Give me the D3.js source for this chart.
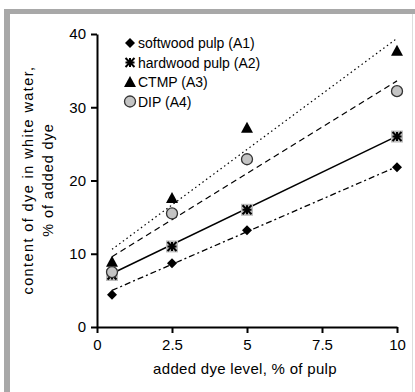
<!DOCTYPE html>
<html><head><meta charset="utf-8">
<script src="https://cdn.jsdelivr.net/npm/d3@7"></script>
<style>body{margin:0;background:#fff}svg{display:block}text{font-family:"Liberation Sans",Arial,sans-serif;fill:#000}</style>
</head><body><svg id="c" width="415" height="392"></svg>
<script>
const xLevels = [0.5, 2.5, 5, 10];
const softwood = [4.4, 8.7, 13.2, 21.8];
const hardwood = [7.1, 11.0, 16.0, 26.0];
const ctmp = [8.9, 17.6, 27.2, 37.7];
const dip = [7.5, 15.5, 22.9, 32.2];
const trendX = [0.5, 10];
const softwoodTrend = [5.0, 21.9];
const hardwoodTrend = [7.3, 26.05];
const ctmpTrend = [10.6, 39.4];
const dipTrend = [9.6, 33.6];
const xTicks = [0, 2.5, 5, 7.5, 10];
const yTicks = [0, 10, 20, 30, 40];
const seriesNames = ["softwood pulp (A1)", "hardwood pulp (A2)", "CTMP (A3)", "DIP (A4)"];

const svg = d3.select("#c");
// frame
svg.append("rect").attr("x",4).attr("y",9).attr("width",411).attr("height",5).attr("fill","#a8a8a8");
svg.append("rect").attr("x",4).attr("y",9).attr("width",6).attr("height",383).attr("fill","#a8a8a8");
svg.append("line").attr("x1",412.5).attr("x2",412.5).attr("y1",14).attr("y2",392).attr("stroke","#ddd");

const x = d3.scaleLinear().domain([0,10]).range([97,397]);
const y = d3.scaleLinear().domain([0,40]).range([327,34]);

const fmt = d => String(d);
const xa = svg.append("g").attr("transform","translate(0,327)")
  .call(d3.axisBottom(x).tickValues(xTicks).tickFormat(fmt).tickSize(6).tickSizeOuter(0));
const ya = svg.append("g").attr("transform","translate(97,0)")
  .call(d3.axisLeft(y).tickValues(yTicks).tickFormat(fmt).tickSize(6).tickSizeOuter(0));
[xa,ya].forEach(a=>{a.select(".domain").attr("stroke","#000").attr("stroke-width",2);
  a.selectAll(".tick line").attr("stroke","#000").attr("stroke-width",2);
  a.selectAll("text").attr("font-size",15).attr("font-family","Liberation Sans, Arial, sans-serif").attr("fill","#000");});
xa.selectAll("text").attr("dy","0.95em");
ya.selectAll("text").attr("x",-11);

svg.append("text").attr("x",245).attr("y",374).attr("text-anchor","middle").attr("font-size",15)
  .attr("letter-spacing","0.3").text("added dye level, % of pulp");
const yt = svg.append("text").attr("transform","translate(33,180) rotate(-90)").attr("text-anchor","middle").attr("font-size",14.5);
yt.append("tspan").attr("x",0).attr("dy",0).attr("letter-spacing","1.4").text("content of dye in white water,");
yt.append("tspan").attr("x",0).attr("dy",20).attr("letter-spacing","0.9").text("% of added dye");

// trend lines
const line = d3.line().x(d=>x(d[0])).y(d=>y(d[1]));
const trends = [
  {v:softwoodTrend, dash:"6,3,2,3", w:1.3},
  {v:hardwoodTrend, dash:null, w:1.5},
  {v:ctmpTrend, dash:"1.5,3", w:1.2},
  {v:dipTrend, dash:"6,4", w:1.2}
];
trends.forEach(t=>{
  svg.append("path").datum(trendX.map((xx,i)=>[xx,t.v[i]])).attr("d",line)
    .attr("fill","none").attr("stroke","#000").attr("stroke-width",t.w)
    .attr("stroke-dasharray",t.dash);
});

function diamond(g,cx,cy){g.append("path").attr("d",`M${cx},${cy-5}L${cx+5},${cy}L${cx},${cy+5}L${cx-5},${cy}Z`).attr("fill","#000");}
function star(g,cx,cy,bg){
  if(bg) g.append("rect").attr("x",cx-6).attr("y",cy-6).attr("width",12).attr("height",12).attr("fill","#bdbdbd");
  const s=4.5;
  g.append("path").attr("d",`M${cx},${cy-s}V${cy+s}M${cx-s},${cy-s}L${cx+s},${cy+s}M${cx+s},${cy-s}L${cx-s},${cy+s}M${cx-s},${cy}H${cx+s}`)
   .attr("stroke","#000").attr("stroke-width",2).attr("fill","none");
}
function tri(g,cx,cy){g.append("path").attr("d",`M${cx},${cy-6}L${cx+6},${cy+5}L${cx-6},${cy+5}Z`).attr("fill","#000");}
function circ(g,cx,cy){g.append("circle").attr("cx",cx).attr("cy",cy).attr("r",5.5).attr("fill","#c4c4c4").attr("stroke","#333").attr("stroke-width",1.3);}

const g = svg.append("g");
softwood.forEach((v,i)=>diamond(g,x(xLevels[i]),y(v)));
hardwood.forEach((v,i)=>star(g,x(xLevels[i]),y(v),true));
ctmp.forEach((v,i)=>tri(g,x(xLevels[i]),y(v)));
dip.forEach((v,i)=>circ(g,x(xLevels[i]),y(v)));

// legend
const lg = svg.append("g");
const markers=[diamond,(g,a,b)=>star(g,a,b,false),tri,circ];
seriesNames.forEach((n,i)=>{
  const cy = 43 + i*19.5;
  markers[i](lg,130,cy);
  lg.append("text").attr("x",138).attr("y",cy+5).attr("font-size",14).text(n);
});
</script></body></html>
